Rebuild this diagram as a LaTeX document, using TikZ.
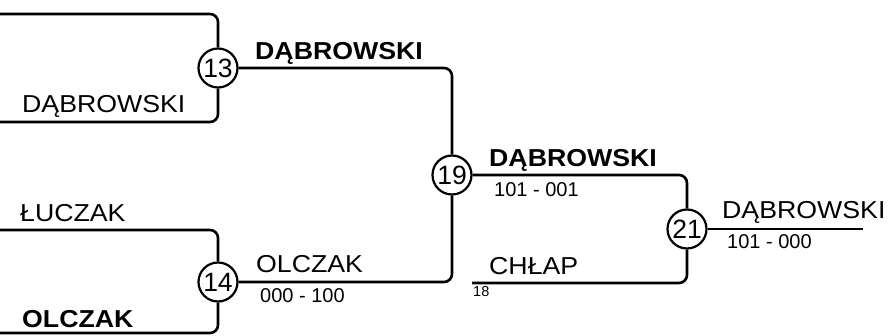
\documentclass[tikz,border=0pt]{standalone}
\usepackage{fontspec}
\setmainfont{Liberation Sans}
\newfontfamily\szeroki{Liberation Sans}[FakeStretch=1.09]
\usetikzlibrary{positioning}
\tikzset{
  linia/.style  = {black, line width=2.6pt, rounded corners=8pt},
  mecz/.style   = {circle, draw, black, line width=2.2pt, minimum size=39pt, inner sep=0pt, font=\fontsize{26.5}{30}\selectfont},
  gracz/.style  = {anchor=base west, inner sep=0pt, font=\szeroki\fontsize{24.5}{28}\selectfont},
  zwyc/.style   = {gracz, font=\szeroki\fontsize{24.5}{28}\selectfont\bfseries},
  wynik/.style  = {anchor=base west, inner sep=0pt, font=\fontsize{20}{22}\selectfont},
  rozst/.style  = {anchor=base west, inner sep=0pt, font=\fontsize{14.5}{16}\selectfont}
}

\begin{document}
\begin{tikzpicture}[x=1pt, y=-1pt]
  \useasboundingbox (0,0) rectangle (889,336);

  % mecze
  \node[mecz] (m13) at (218,68)  {13};
  \node[mecz] (m14) at (218,282) {14};
  \node[mecz] (m19) at (452,175) {19};
  \node[mecz] (m21) at (687,229) {21};

  % wolne konce
  \coordinate (p1) at (0,14);
  \coordinate (p2) at (0,122);
  \coordinate (p3) at (0,230);
  \coordinate (p4) at (0,333);
  \coordinate (p5) at (472,283);
  \coordinate (fin) at (863,229);

  \draw[linia] (p1) -| (m13);
  \draw[linia] (p2) -| (m13);
  \draw[linia] (p3) -| (m14);
  \draw[linia] (p4) -| (m14);
  \draw[linia] (m13) -| (m19);
  \draw[linia] (m14) -| (m19);
  \draw[linia] (m19) -| (m21);
  \draw[linia] (p5) -| (m21);
  \draw[linia] (m21) -- (fin);

  % zawodnicy
  \node[gracz] (g2) at (22,113)  {DĄBROWSKI};
  \node[zwyc]  (g13) at (255,60) {DĄBROWSKI};
  \node[gracz] (g3) at (20,222)  {ŁUCZAK};
  \node[zwyc]  (g4) at (22,328)  {OLCZAK};
  \node[gracz] (g14) at (256,273) {OLCZAK};
  \node[wynik] (w14) at (260,303) {000 - 100};
  \node[zwyc]  (g19) at (489,167) {DĄBROWSKI};
  \node[wynik] (w19) at (494,197) {101 - 001};
  \node[gracz] (g5) at (489,275) {CHŁAP};
  \node[rozst] (r5) at (473,297) {18};
  \node[gracz] (g21) at (722,219) {DĄBROWSKI};
  \node[wynik] (w21) at (727,249) {101 - 000};
\end{tikzpicture}
\end{document}
